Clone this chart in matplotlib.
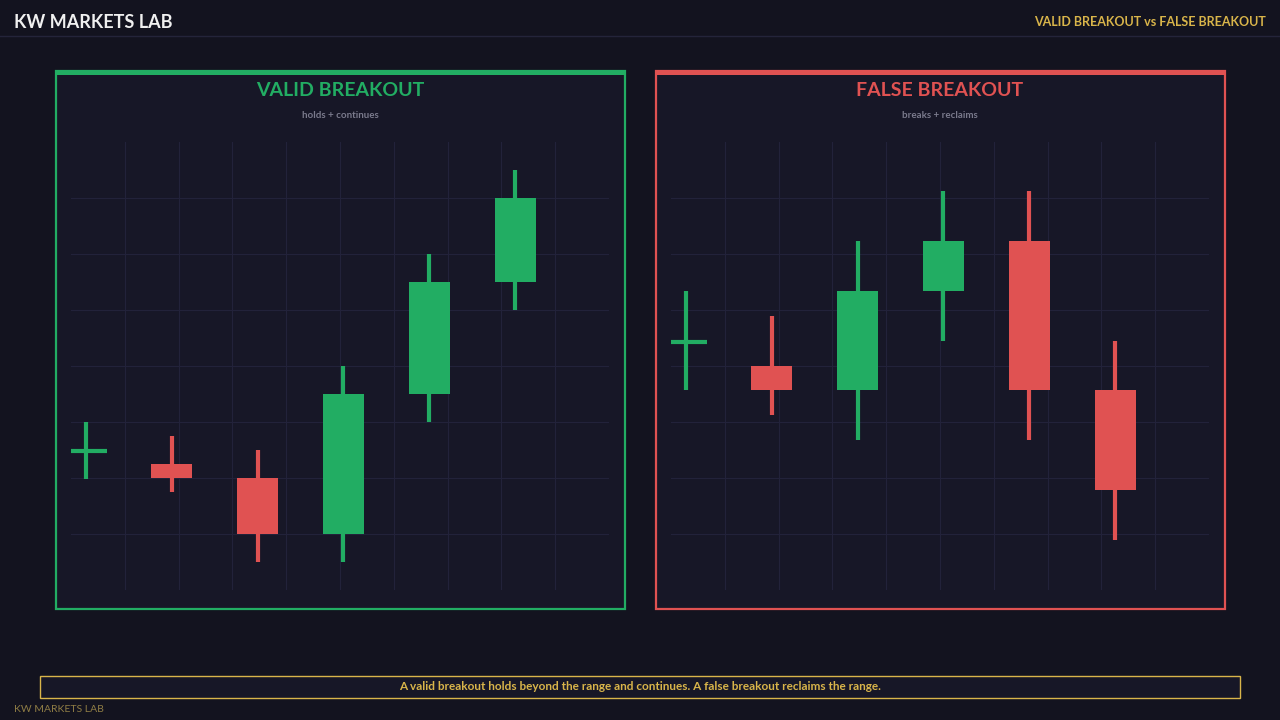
import matplotlib
matplotlib.use("Agg")
import matplotlib.pyplot as plt
from matplotlib.patches import Rectangle

plt.rcParams["font.family"] = ["Lato", "DejaVu Sans"]

BG = "#13131f"
PANEL = "#171727"
GRID = "#22223a"
GREEN = "#22ad63"
RED = "#e05252"
GOLD = "#d9b54a"

# candle data (open, high, low, close)
valid_open = [24.8, 22.5, 20, 10, 35, 55]
valid_high = [30, 27.5, 25, 40, 60, 75]
valid_low = [19.8, 17.5, 5, 5, 30, 50]
valid_close = [24.8, 20, 10, 35, 55, 70]

false_open = [44.3, 40, 35.7, 53.4, 62.3, 35.7]
false_high = [53.4, 48.9, 62.3, 71.3, 71.3, 44.5]
false_low = [35.7, 31.3, 26.8, 44.5, 26.8, 8.9]
false_close = [44.3, 35.7, 53.4, 62.3, 35.7, 17.9]

W, H = 1280, 720
fig = plt.figure(figsize=(12.8, 7.2), dpi=100, facecolor=BG)


def fx(x):
    return x / W


def fy(y):
    return 1 - y / H


def draw_panel(left, title, sub, color, opens, highs, lows, closes):
    # frame
    fig.patches.append(Rectangle((fx(left), fy(609)), fx(569), 538 / H,
                                 transform=fig.transFigure, facecolor=PANEL,
                                 edgecolor=color, lw=1.6, zorder=-2))
    fig.patches.append(Rectangle((fx(left), fy(75)), fx(569), 4 / H,
                                 transform=fig.transFigure, facecolor=color,
                                 edgecolor="none", zorder=-1))
    fig.text(fx(left + 284), fy(91), title, color=color, fontsize=14,
             fontweight="bold", ha="center", va="center")
    fig.text(fx(left + 284), fy(115), sub, color="#7a7a8c", fontsize=7,
             fontweight="bold", ha="center", va="center")

    ax = fig.add_axes([fx(left + 15), fy(590), fx(538), 448 / H])
    ax.set_zorder(2)
    ax.set_facecolor("none")
    ax.set_xlim(0, 10)
    ax.set_ylim(0, 80)
    for g in range(1, 10):
        ax.axvline(g, color=GRID, lw=0.8, zorder=0)
    for g in range(10, 80, 10):
        ax.axhline(g, color=GRID, lw=0.8, zorder=0)
    for s in ax.spines.values():
        s.set_visible(False)
    ax.set_xticks([])
    ax.set_yticks([])

    for i, (o, h, l, c) in enumerate(zip(opens, highs, lows, closes)):
        x = 0.28 + 1.595 * i
        col = GREEN if c >= o else RED
        ax.plot([x, x], [l, h], color=col, lw=3, solid_capstyle="butt", zorder=2)
        if abs(c - o) < 0.01:
            ax.plot([x - 0.38, x + 0.38], [o, o], color=col, lw=3,
                    solid_capstyle="butt", zorder=3)
        else:
            ax.add_patch(Rectangle((x - 0.38, min(o, c)), 0.76, abs(c - o),
                                   facecolor=col, edgecolor="none", zorder=3))


draw_panel(56, "VALID BREAKOUT", "holds + continues", GREEN,
           valid_open, valid_high, valid_low, valid_close)
draw_panel(656, "FALSE BREAKOUT", "breaks + reclaims", RED,
           false_open, false_high, false_low, false_close)

# header
fig.text(fx(14), fy(23), "KW MARKETS LAB", color="#f0f0f0", fontsize=13,
         fontweight="bold", ha="left", va="center")
fig.text(fx(1266), fy(22), "VALID BREAKOUT vs FALSE BREAKOUT", color=GOLD,
         fontsize=9, fontweight="bold", ha="right", va="center")
fig.add_artist(plt.Line2D([0, 1], [fy(36), fy(36)], color="#24243a", lw=1))

# footer
fig.patches.append(Rectangle((fx(40), fy(698)), fx(1200), 22 / H,
                             transform=fig.transFigure, facecolor=PANEL,
                             edgecolor=GOLD, lw=1))
fig.text(0.5, fy(686), "A valid breakout holds beyond the range and continues. "
         "A false breakout reclaims the range.", color=GOLD, fontsize=8.5,
         fontweight="bold", ha="center", va="center")
fig.text(fx(14), fy(710), "KW MARKETS LAB", color="#8f7d45", fontsize=7.5,
         ha="left", va="center")

fig.savefig("out.png", dpi=100, facecolor=BG)
